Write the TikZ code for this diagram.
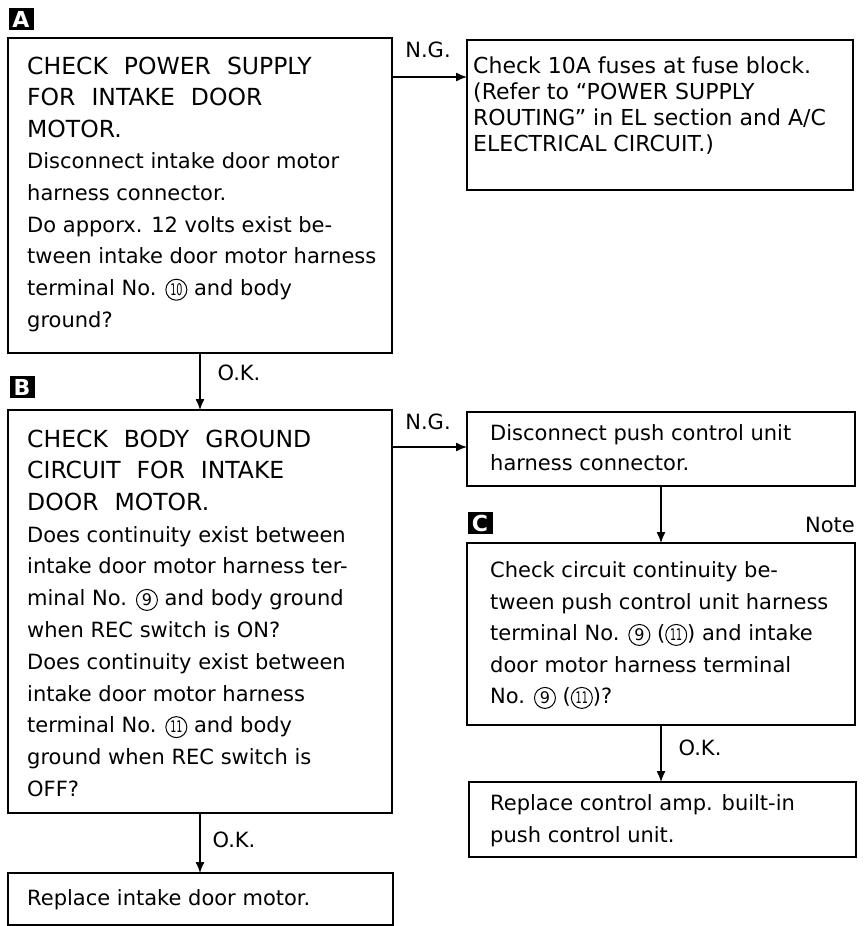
\documentclass[tikz,border=0pt]{standalone}
\usepackage{fontspec}
\setmainfont{DejaVu Sans}
\usetikzlibrary{arrows.meta}
\newcommand\wsp{\hspace{16pt}}
\newcommand\cnum[1]{\tikz[baseline=(cn.base)]\node[cnode](cn){#1};}
\newcommand\cnn[1]{\cnum{\scalebox{0.6}[1]{#1}}}
\tikzset{
  cnode/.style={draw,circle,line width=1pt,inner sep=0pt,minimum size=21pt,
    font=\fontsize{16}{16}\selectfont},
  box/.style={draw,line width=1.5pt,anchor=north west,inner sep=0pt,outer sep=0pt},
  hdr/.style={anchor=north west,inner sep=0pt,align=left,
    font=\fontsize{23.5}{31.7}\selectfont},
  body/.style={anchor=north west,inner sep=0pt,align=left,
    font=\fontsize{21}{31.7}\selectfont},
  lbl/.style={inner sep=0pt,font=\fontsize{21}{21}\selectfont},
  tag/.style={fill=black,text=white,inner sep=0pt,minimum width=25pt,minimum height=22pt,
    font=\fontsize{22}{22}\selectfont\bfseries},
  arr/.style={line width=1.3pt,-{Latex[length=11pt,width=9pt]}}
}
\begin{document}
\begin{tikzpicture}[x=1pt,y=-1pt]
\fill[white] (0,0) rectangle (866,926);
\useasboundingbox (0,0) rectangle (866,926);
% boxes
\node[box,minimum width=384pt,minimum height=315pt] (A) at (8,38) {};
\node[box,minimum width=386pt,minimum height=150pt] (R) at (467,40) {};
\node[box,minimum width=384pt,minimum height=403pt] (B) at (8,410) {};
\node[box,minimum width=388pt,minimum height=74pt] (D) at (467,412) {};
\node[box,minimum width=388pt,minimum height=182pt] (C) at (467,543) {};
\node[box,minimum width=387pt,minimum height=75pt] (E) at (469,782) {};
\node[box,minimum width=385pt,minimum height=52pt] (F) at (8,873) {};
% tags
\node[tag] (tagA) at (21,19) {A};
\node[tag] (tagB) at (22,387) {B};
\node[tag] (tagC) at (480,523) {C};
\node[lbl,anchor=east] (note) at (855,525) {Note};
% texts
\node[hdr] (tA1) at (27,56.5) {CHECK\wsp POWER\wsp SUPPLY\\FOR\wsp INTAKE\wsp DOOR\\MOTOR.};
\node[body] (tA2) at (27,152.6) {Disconnect intake door motor\\harness connector.\\Do apporx. 12 volts exist be-\\tween intake door motor harness\\terminal No. \cnn{10} and body\\ground?};
\node[body,font=\fontsize{22}{26}\selectfont] (tR) at (473,57) {Check 10A fuses at fuse block.\\(Refer to “POWER SUPPLY\\ROUTING” in EL section and A/C\\ELECTRICAL CIRCUIT.)};
\node[hdr] (tB1) at (27,429.5) {CHECK\wsp BODY\wsp GROUND\\CIRCUIT\wsp FOR\wsp INTAKE\\DOOR\wsp MOTOR.};
\node[body,font=\fontsize{21}{31.8}\selectfont] (tB2) at (27,526) {Does continuity exist between\\intake door motor harness ter-\\minal No. \cnum{9} and body ground\\when REC switch is ON?\\Does continuity exist between\\intake door motor harness\\terminal No. \cnn{11} and body\\ground when REC switch is\\OFF?};
\node[body,font=\fontsize{21}{30}\selectfont] (tD) at (490,424.6) {Disconnect push control unit\\harness connector.};
\node[body,font=\fontsize{21}{31.5}\selectfont] (tC) at (490,561.6) {Check circuit continuity be-\\tween push control unit harness\\terminal No. \cnum{9} (\cnn{11}) and intake\\door motor harness terminal\\No. \cnum{9} (\cnn{11})?};
\node[body,font=\fontsize{21}{32}\selectfont] (tE) at (490,794.6) {Replace control amp. built-in\\push control unit.};
\node[body] (tF) at (27,889.6) {Replace intake door motor.};
% connectors
\draw[arr] ([yshift=-39pt]A.north east) -- ([yshift=-37pt]R.north west);
\draw[arr] (A.south) -- (B.north);
\draw[arr] ([yshift=-37pt]B.north east) -- ([yshift=-35pt]D.north west);
\draw[arr] (D.south) -- (D.south |- C.north);
\draw[arr] (C.south) -- (C.south |- E.north);
\draw[arr] (B.south) -- (B.south |- F.north);
% connector labels
\node[lbl] (ng1) at (428,50) {N.G.};
\node[lbl] (ng2) at (428,422) {N.G.};
\node[lbl] (ok1) at (239,373) {O.K.};
\node[lbl] (ok2) at (234,840) {O.K.};
\node[lbl] (ok3) at (700,748) {O.K.};
\end{tikzpicture}
\end{document}
